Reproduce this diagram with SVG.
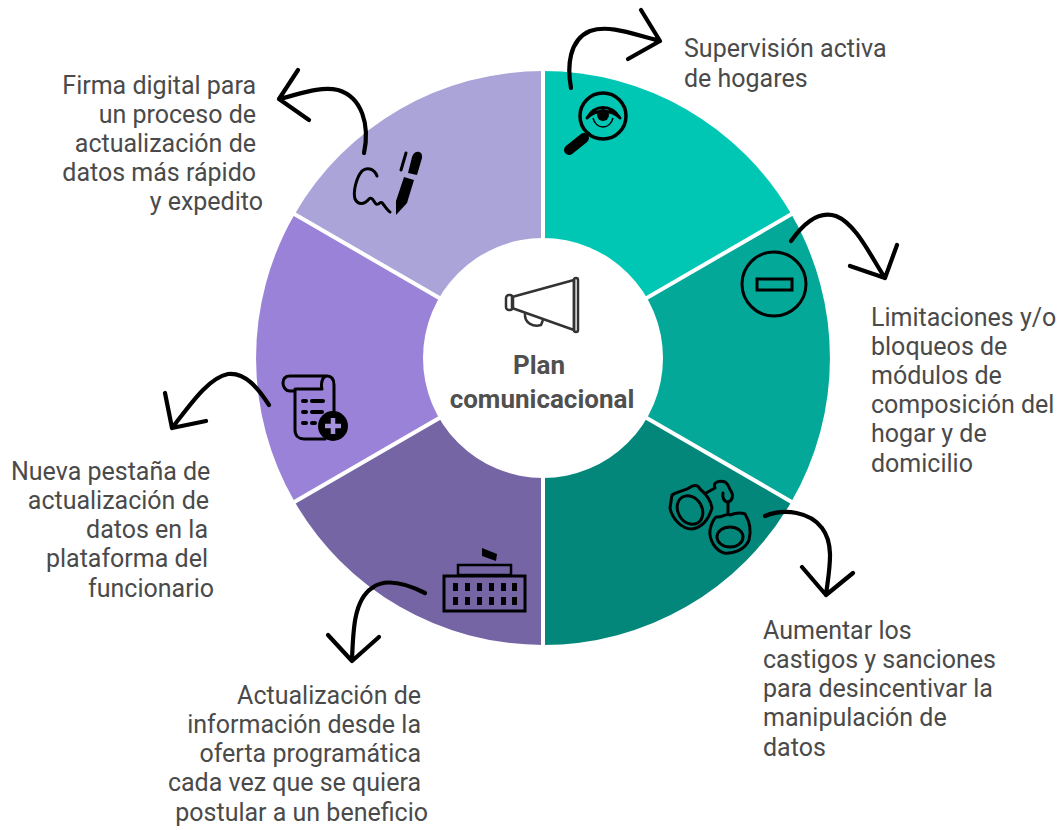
<svg xmlns="http://www.w3.org/2000/svg" width="1063" height="830" viewBox="0 0 1063 830">
<style>
.t{font-family:Roboto,"Liberation Sans",sans-serif;font-size:25px;font-weight:400;fill:#4a4a4a}
.r{text-anchor:end}
.c{font-family:Roboto,"Liberation Sans",sans-serif;font-size:26px;font-weight:700;fill:#505050;text-anchor:middle}
.a{fill:none;stroke:#000;stroke-width:4.2;stroke-linecap:round;stroke-linejoin:round}
.i{fill:none;stroke:#000;stroke-width:3;stroke-linecap:round;stroke-linejoin:round}
.f{fill:#000}
.s{fill:none;stroke:#fff;stroke-width:4}
</style>
<rect width="1063" height="830" fill="#fff"/>
<g id="wheel">
<path d="M543 358V71A287 287 0 0 1 791.5 214.500Z" fill="#00c7b4"/>
<path d="M543 358L791.500 214.500A287 287 0 0 1 791.500 501.500Z" fill="#03a899"/>
<path d="M543 358L791.500 501.500A287 287 0 0 1 543 645Z" fill="#02877a"/>
<path d="M543 358V645A287 287 0 0 1 294.500 501.500Z" fill="#7565a5"/>
<path d="M543 358L294.500 501.500A287 287 0 0 1 294.500 214.500Z" fill="#9b82d9"/>
<path d="M543 358L294.500 214.500A287 287 0 0 1 543 71Z" fill="#aaa4d9"/>
<path class="s" d="M543 69V647M293 213.300L793 502.700M793 213.300L293 502.700"/>
</g>
<g id="center">
<circle cx="543" cy="358" r="120" fill="#fff"/>
<g fill="none" stroke="#333" stroke-width="2.500" stroke-linejoin="round">
<path d="M512 297L574 280V330L512 308Z"/>
<rect x="506" y="295" width="7" height="15" rx="3"/>
<rect x="574" y="278" width="4" height="54" rx="2"/>
<path d="M525 313C524 324 534 327 541 325L543 320"/>
</g>
<text class="c" x="539" y="374">Plan</text>
<text class="c" x="542" y="408">comunicacional</text>
</g>
<g id="node-supervision">
<circle cx="603" cy="116" r="23" fill="none" stroke="#000" stroke-width="3.500"/>
<path class="i" d="M587 118C595 104 611 104 620 118C611 109 596 109 587 118Z" stroke-width="2.500"/>
<circle class="f" cx="603" cy="115" r="6"/>
<path d="M593 118C596 130 610 130 613 118" fill="none" stroke="#000" stroke-width="1.500"/>
<path d="M569 150L584 138" stroke="#000" stroke-width="10" stroke-linecap="round"/>
<path d="M584 138L590 133" stroke="#000" stroke-width="3"/>
<text class="t" x="684" y="57">Supervisión activa</text>
<text class="t" x="684" y="87">de hogares</text>
</g>
<g id="node-limitaciones">
<circle cx="774" cy="284" r="32" fill="none" stroke="#000" stroke-width="3"/>
<rect x="757" y="279" width="35" height="11" fill="none" stroke="#000" stroke-width="3"/>
<text class="t" x="871" y="326">Limitaciones y/o</text>
<text class="t" x="871" y="355">bloqueos de</text>
<text class="t" x="871" y="384">módulos de</text>
<text class="t" x="871" y="413">composición del</text>
<text class="t" x="871" y="442">hogar y de</text>
<text class="t" x="871" y="472">domicilio</text>
</g>
<g id="node-castigos">
<g class="i" stroke-width="2.500">
<path d="M672 495C678 491 684 491 689 488C694 484 698 485 700 489C706 494 711 501 712 508C709 518 704 527 692 529C681 529 672 518 670 508Z"/>
<ellipse cx="690" cy="510" rx="12" ry="15" transform="rotate(-30 690 510)"/>
<path d="M706 493L715 488C712 482 720 480 725 482C729 484 729 489 731 491C734 496 732 501 728 502C724 502 722 497 723 493"/>
<path d="M728 503V513"/>
<path d="M716 517C722 518 726 513 730 515C735 513 740 512 745 514C750 522 751 532 749 540C745 550 733 554 724 553C715 550 709 540 710 530C711 525 713 520 716 517Z"/>
<ellipse cx="730" cy="537" rx="13" ry="10"/>
</g>
<text class="t" x="763" y="639">Aumentar los</text>
<text class="t" x="763" y="668">castigos y sanciones</text>
<text class="t" x="763" y="697">para desincentivar la</text>
<text class="t" x="763" y="726">manipulación de</text>
<text class="t" x="763" y="756">datos</text>
</g>
<g id="node-actualizacion">
<path class="f" d="M482 548L497 554L496 561L482 556Z"/>
<rect x="458" y="565" width="53" height="10" fill="none" stroke="#000" stroke-width="2.500"/>
<rect x="444" y="576" width="81" height="35" fill="none" stroke="#000" stroke-width="3"/>
<g class="f">
<rect x="453" y="583" width="5" height="8"/><rect x="465" y="583" width="5" height="8"/><rect x="477" y="583" width="5" height="8"/><rect x="489" y="583" width="5" height="8"/><rect x="501" y="583" width="5" height="8"/><rect x="512" y="583" width="5" height="8"/>
<rect x="453" y="597" width="5" height="8"/><rect x="465" y="597" width="5" height="8"/><rect x="477" y="597" width="5" height="8"/><rect x="489" y="597" width="5" height="8"/><rect x="501" y="597" width="5" height="8"/><rect x="512" y="597" width="5" height="8"/>
</g>
<text class="t r" x="421" y="704">Actualización de</text>
<text class="t r" x="421" y="733">información desde la</text>
<text class="t r" x="421" y="762">oferta programática</text>
<text class="t r" x="421" y="791">cada vez que se quiera</text>
<text class="t r" x="428" y="821">postular a un beneficio</text>
</g>
<g id="node-nueva">
<path class="i" d="M295 392V430C295 436 299 439 304 439H325" stroke-width="4"/>
<path class="i" d="M295 391H290C285 391 283 386 283 383C283 379 285 376 290 376H327C332 376 334 380 334 385V412M326 376C321 378 321 386 322 389H295" stroke-width="4"/>
<path d="M303 401H306M312 401H323M303 412H306M312 412H322M303 423H306M312 423H315" stroke="#000" stroke-width="4" stroke-linecap="round"/>
<circle class="f" cx="333" cy="426" r="15"/>
<path d="M333 418V434M325 426H341" stroke="#a593dc" stroke-width="4.500"/>
<text class="t" x="11" y="480">Nueva pestaña de</text>
<text class="t r" x="209" y="509">actualización de</text>
<text class="t r" x="208" y="538">datos en la</text>
<text class="t r" x="208" y="567">plataforma del</text>
<text class="t r" x="214" y="597">funcionario</text>
</g>
<g id="node-firma">
<path class="i" d="M377 176C374 168 366 167 362 171C356 178 353 192 355 199C358 205 364 205 369 199C372 196 374 202 376 204C378 206 381 200 383 204C386 208 388 211 390 212" stroke-width="4"/>
<path class="f" d="M404 177L414 180L407 203L396 215L396 201Z"/>
<path class="f" d="M408 173L412 157C414 150 423 150 422 158L417 175Z"/>
<path d="M401 170L406 153" stroke="#000" stroke-width="3" stroke-linecap="round"/>
<text class="t r" x="256" y="94">Firma digital para</text>
<text class="t r" x="256" y="123">un proceso de</text>
<text class="t r" x="256" y="152">actualización de</text>
<text class="t r" x="256" y="181">datos más rápido</text>
<text class="t r" x="263" y="210">y expedito</text>
</g>
<g id="connectors">
<path class="a" d="M571 88C567 66 569 40 590 31C610 24 635 35 660 41M641 10L660 41L628 59"/>
<path class="a" d="M791 241C803 224 819 210 836 216C856 224 870 255 885 278M897 245L885 278L850 266"/>
<path class="a" d="M765 516C785 508 810 512 822 528C835 545 829 570 826 595M802 567L826 595L853 573"/>
<path class="a" d="M425 593C405 583 385 578 372 588C354 600 353 630 352 661M328 635L352 661L379 637"/>
<path class="a" d="M269 405C258 388 245 372 228 374C208 378 190 405 172 428M165 393L172 428L206 421"/>
<path class="a" d="M364 153C370 125 362 97 338 90C320 86 300 94 279 99M298 70L279 99L309 120"/>
</g>
</svg>
